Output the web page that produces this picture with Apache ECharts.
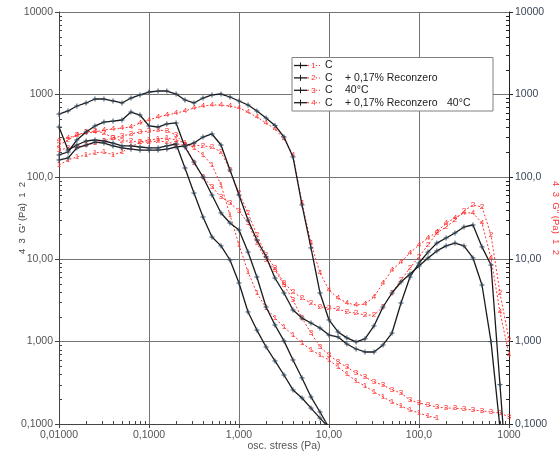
<!DOCTYPE html>
<html><head><meta charset="utf-8">
<script src="https://cdn.jsdelivr.net/npm/echarts@6/dist/echarts.min.js"></script>
<style>html,body{margin:0;padding:0;background:#fff}#c{width:559px;height:454px}</style>
</head><body><div id="c"></div>
<script>
// osc. stress (Pa)
const stress = [0.01, 0.0126, 0.0158, 0.02, 0.0251, 0.0316, 0.0398, 0.0501, 0.0631, 0.0794,
  0.1, 0.126, 0.158, 0.2, 0.251, 0.316, 0.398, 0.501, 0.631, 0.794,
  1, 1.26, 1.58, 2, 2.51, 3.16, 3.98, 5.01, 6.31, 7.94,
  10, 12.6, 15.8, 20, 25.1, 31.6, 39.8, 50.1, 63.1, 79.4,
  100, 126, 158, 200, 251, 316, 398, 501, 631, 794, 1000];

// G' (black, solid)
const g1 = [402,211,243,272,280,272,257,237,237,230,224,224,237,250,128,63.5,32.5,18.6,14.5,9.78,5.14,2.29,1.38,0.86,0.582,0.393,0.259,0.207,0.156,0.118,0.09];
const g2 = [160,169,224,243,264,257,237,224,217,211,211,211,217,230,237,257,304,331,243,121,60,29.9,17.1,10.7,5.91,3.89,2.42,1.93,1.68,1.46,1.20,1.14,0.935,0.813,0.748,0.748,0.910,1.27,2.94,6.08,8.99,12.2,15.7,18.1,20.8,24.6,26.0,14.1,8.5,0.30,0.01];
const g3 = [184,200,280,350,414,462,475,489,611,562,414,402,438,450,230,151,99.5,60.1,36.4,27.5,22.6,12.2,6.08,2.63,1.59,1.02,0.598,0.362,0.213,0.140,0.09];
const g4 = [578,629,723,787,879,879,832,787,904,984,1069,1099,1099,1011,855,787,904,984,1011,930,832,743,629,517,420,304,174,45.5,13.7,3.89,1.83,1.31,1.11,0.99,1.08,1.55,2.63,3.89,5.29,6.61,8.27,10.35,12.6,14.5,15.7,14.5,10.35,4.86,1.0,0.09];

// G'' (red, dotted)
const r1 = [139,160,174,184,195,200,184,200,230,264,280,288,296,280,257,224,184,139,79.5,34.4,14.9,7.00,3.89,2.56,1.93,1.50,1.20,0.962,0.791,0.687,0.598,0.492,0.405,0.333,0.289,0.245,0.213,0.185,0.165,0.148,0.136,0.125,0.118];
const r2 = [243,280,321,350,360,340,296,272,272,264,264,272,264,250,243,243,237,230,200,121,63.5,36.4,19.7,11.2,7.82,5.14,4.00,3.38,2.94,2.63,2.56,2.49,2.29,2.22,2.10,2.10,2.63,3.89,5.60,7.82,10.7,14.9,20.8,24.6,29.9,38.6,45.5,43.0,19.7,3.89,1.05];
const r3 = [211,224,230,243,257,272,296,313,331,350,360,370,360,321,243,147,99.5,75.2,56.9,48.1,38.5,27.5,15.7,9.78,7.40,4.86,3.20,1.93,1.27,0.860,0.687,0.565,0.492,0.416,0.372,0.324,0.297,0.259,0.238,0.195,0.180,0.170,0.161,0.156,0.156,0.152,0.148,0.144,0.140,0.136,0.122];
const r4 = [280,296,321,340,350,370,380,391,402,450,489,532,562,594,629,684,723,743,743,723,684,611,532,450,380,288,184,48.1,15.7,6.80,4.23,3.38,2.94,2.78,2.86,3.48,5.14,7.40,9.25,11.9,14.9,18.1,21.4,27.5,31.6,36.4,36.4,27.5,10.3,2.29,0.69];

const xTickLabels = {'-2':'0,01000','-1':'0,1000','0':'1,000','1':'10,00','2':'100,0','3':'1000'};
const yTickLabels = {'-1':'0,1000','0':'1,000','1':'10,00','2':'100,0','3':'1000','4':'10000'};
const legendRows = [
  {n:'1', a:'C', b:'', c:''},
  {n:'2', a:'C', b:'+ 0,17% Reconzero', c:''},
  {n:'3', a:'C', b:'40°C', c:''},
  {n:'4', a:'C', b:'+ 0,17% Reconzero', c:'40°C'}
];

// minor log tick values (2..9 per decade)
function minorVals(lo, hi){ const out=[]; for(let e=lo;e<hi;e++){ for(let k=2;k<=9;k++){ out.push(k*Math.pow(10,e)); } } return out; }
const xMinor = minorVals(-2,3), yMinor = minorVals(-1,4);
const expOf = v => String(Math.round(Math.log10(v)));
const FONT = 'Liberation Sans, Arial, sans-serif';

function pairs(arr){ const d=[]; arr.forEach((v,i)=>{ if(v!=null) d.push([stress[i], v]); }); return d; }

const blackMarker = 'path://M0,5 L10,5 M5,0 L5,10';
function gSeries(arr){
  return {type:'line', data:pairs(arr), symbol:blackMarker, symbolSize:5, showAllSymbol:true,
    lineStyle:{color:'#1a1a1a', width:1.3},
    itemStyle:{color:'rgba(0,0,0,0)', borderColor:'#34495e', borderWidth:1},
    z:3, silent:true};
}
function rSeries(arr, n){
  return {type:'line', data:pairs(arr), symbol:'circle', symbolSize:2, showAllSymbol:true,
    lineStyle:{color:'#ff3333', width:1, type:[2,2]},
    itemStyle:{color:'rgba(0,0,0,0)'},
    label:{show:true, position:'inside', formatter:n, color:'#ff2a2a', fontSize:8, fontFamily:FONT},
    z:2, silent:true};
}

const GRID = '#747474';
const axisText = {fontSize:10.5, fontFamily:FONT};
const option = {
  animation:false,
  grid:{left:59, right:50, top:12, bottom:30, containLabel:false, outerBoundsMode:'none'},
  xAxis:[
    {type:'log', logBase:10, min:0.01, max:1000, position:'bottom',
     name:'osc. stress (Pa)', nameLocation:'middle', nameGap:17, nameMoveOverlap:false,
     nameTextStyle:{fontSize:10.5, color:'#555', fontFamily:FONT},
     axisLine:{show:true, onZero:false, lineStyle:{color:'#444', width:1}},
     axisTick:{show:true, inside:false, length:4, lineStyle:{color:'#444'}},
     axisLabel:Object.assign({color:'#555', margin:6, formatter:v=>xTickLabels[expOf(v)]||''}, axisText),
     splitLine:{show:true, lineStyle:{color:GRID, width:1}}}
  ],
  yAxis:[
    {type:'log', logBase:10, min:0.1, max:10000, position:'left',
     name:"4  3  G' (Pa)  1  2", nameLocation:'middle', nameGap:32, nameMoveOverlap:false,
     nameTextStyle:{fontSize:9.5, color:'#444', fontFamily:FONT},
     axisLine:{show:true, onZero:false, lineStyle:{color:'#444', width:1}},
     axisTick:{show:true, inside:false, length:4, lineStyle:{color:'#444'}},
     axisLabel:Object.assign({color:'#555', margin:6, formatter:v=>yTickLabels[expOf(v)]||''}, axisText),
     splitLine:{show:true, lineStyle:{color:GRID, width:1}}},
    {type:'log', logBase:10, min:0.1, max:10000, position:'right',
     name:"4  3  G'' (Pa)  1  2", nameLocation:'middle', nameGap:42, nameRotate:-90, nameMoveOverlap:false,
     nameTextStyle:{fontSize:9.5, color:'#ff3333', fontFamily:FONT},
     axisLine:{show:true, onZero:false, lineStyle:{color:'#222', width:1}},
     axisTick:{show:true, inside:false, length:4, lineStyle:{color:'#222'}},
     axisLabel:Object.assign({color:'#3a4658', margin:6, formatter:v=>yTickLabels[expOf(v)]||''}, axisText),
     splitLine:{show:false}}
  ],
  series:[
    rSeries(r1,'1'), rSeries(r2,'2'), rSeries(r3,'3'), rSeries(r4,'4'),
    gSeries(g1), gSeries(g2), gSeries(g3), gSeries(g4)
  ]
};

const chart = echarts.init(document.getElementById('c'), null, {renderer:'canvas'});
chart.setOption(option);

// minor ticks placed through the axes' own scales
const gfx = [];
const xL = chart.convertToPixel({xAxisIndex:0}, 0.01), xR = chart.convertToPixel({xAxisIndex:0}, 1000);
const yB = chart.convertToPixel({yAxisIndex:0}, 0.1);
xMinor.forEach(v=>{ const p = Math.round(chart.convertToPixel({xAxisIndex:0}, v))+0.5;
  gfx.push({type:'line', shape:{x1:p, y1:yB, x2:p, y2:yB-3}, style:{stroke:'#444', lineWidth:1}, z:10, silent:true}); });
yMinor.forEach(v=>{ const p = Math.round(chart.convertToPixel({yAxisIndex:0}, v))+0.5;
  gfx.push({type:'line', shape:{x1:xL, y1:p, x2:xL+3, y2:p}, style:{stroke:'#444', lineWidth:1}, z:10, silent:true});
  gfx.push({type:'line', shape:{x1:xR, y1:p, x2:xR-3, y2:p}, style:{stroke:'#222', lineWidth:1}, z:10, silent:true}); });

// legend box drawn as graphic elements
gfx.push({type:'rect', shape:{x:292, y:57.5, width:201, height:53.5}, style:{fill:'#fff', stroke:'#808080', lineWidth:1}, z:50});
legendRows.forEach((r,i)=>{
  const y = 65.5 + i*12.4;
  gfx.push({type:'line', shape:{x1:294, y1:y, x2:307, y2:y}, style:{stroke:'#1a1a1a', lineWidth:1.3}, z:51});
  gfx.push({type:'line', shape:{x1:300.5, y1:y-3, x2:300.5, y2:y+3}, style:{stroke:'#1a1a1a', lineWidth:1}, z:51});
  gfx.push({type:'line', shape:{x1:307, y1:y, x2:320, y2:y}, style:{stroke:'#ff3333', lineWidth:1, lineDash:[2,2]}, z:51});
  gfx.push({type:'text', x:313.5, y:y, style:{text:r.n, fill:'#ff2a2a', font:'8px '+FONT, align:'center', verticalAlign:'middle', backgroundColor:'#fff'}, z:52});
  gfx.push({type:'text', x:325, y:y, style:{text:r.a, fill:'#222', font:'10.5px '+FONT, verticalAlign:'middle'}, z:52});
  if (r.b) gfx.push({type:'text', x:345, y:y, style:{text:r.b, fill:'#222', font:'10.5px '+FONT, verticalAlign:'middle'}, z:52});
  if (r.c) gfx.push({type:'text', x:447, y:y, style:{text:r.c, fill:'#222', font:'10.5px '+FONT, verticalAlign:'middle'}, z:52});
});
chart.setOption({graphic: gfx});
</script></body></html>
